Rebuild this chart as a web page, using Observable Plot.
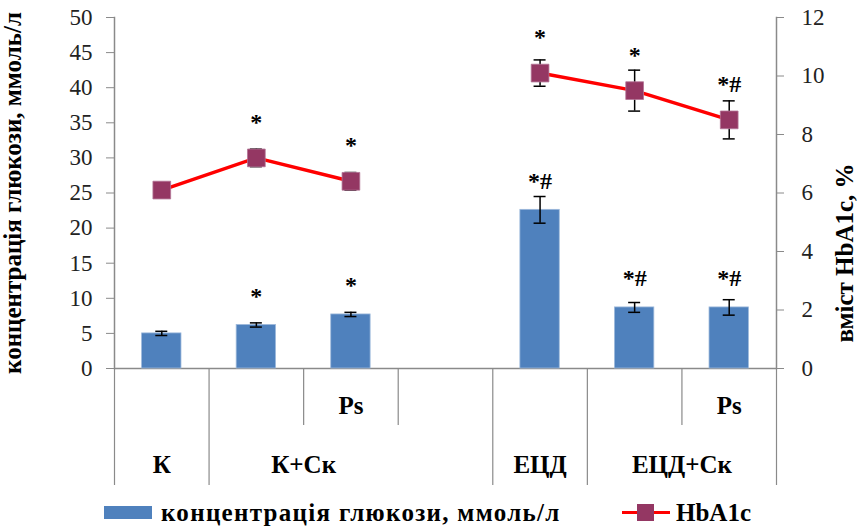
<!DOCTYPE html>
<html>
<head>
<meta charset="utf-8">
<script src="https://cdn.jsdelivr.net/npm/d3@7"></script>
<script src="https://cdn.jsdelivr.net/npm/@observablehq/plot@0.6"></script>
<style>
  body { margin: 0; background: #fff; }
  #wrap { position: relative; width: 858px; height: 528px; font-family: "Liberation Serif", "DejaVu Serif Condensed", "DejaVu Serif", serif; }
  #legend { position: absolute; left: 0; top: 492px; width: 858px; height: 36px; font-weight: bold; font-size: 25px; line-height: 1; }
  #legend .sw { position: absolute; }
  #legend .txt { position: absolute; top: 8px; white-space: nowrap; color: #000; }
</style>
</head>
<body>
<div id="wrap">
  <div id="chart"></div>
  <div id="legend">
    <div class="sw" style="left:104px;top:14px;width:48px;height:13px;background:#4F81BD;"></div>
    <div class="txt" style="left:161px;letter-spacing:1.3px;">концентрація глюкози, ммоль/л</div>
    <div class="sw" style="left:622px;top:19px;width:48px;height:3px;background:#FF0000;"></div>
    <div class="sw" style="left:637px;top:12px;width:17px;height:17px;background:#943763;"></div>
    <div class="txt" style="left:676px;">HbA1c</div>
  </div>
</div>
<script>
// Groups on the outer row of the category axis, sub-labels on the inner row
const groups = ["К", "К+Ск", "К+Ск", "К+Ск", "ЕЦД", "ЕЦД+Ск", "ЕЦД+Ск"];
const subLabels = ["", "", "Ps", "", "", "", "Ps"];

// Blood glucose, mmol/l (bars, left axis)
const glucose = [5.0, 6.2, 7.7, null, 22.6, 8.7, 8.7];
const glucoseErr = [0.3, 0.3, 0.3, null, 1.9, 0.7, 1.1];
const glucoseMarks = ["", "*", "*", "", "*#", "*#", "*#"];

// HbA1c, % (line, right axis)
const hba1c = [6.1, 7.2, 6.4, null, 10.1, 9.5, 8.5];
const hba1cErr = [0.2, 0.3, 0.3, null, 0.45, 0.7, 0.65];
const hba1cMarks = ["", "*", "*", "", "*", "*", "*#"];

// Axis ticks
const leftTicks = [0, 5, 10, 15, 20, 25, 30, 35, 40, 45, 50];
const rightTicks = [0, 2, 4, 6, 8, 10, 12];

const yMax = 50, y2Max = 12;
const k = yMax / y2Max; // HbA1c units -> glucose axis units

const rows = groups.map((g, i) => ({
  i, group: g, sub: subLabels[i],
  glucose: glucose[i], gErr: glucoseErr[i], gMark: glucoseMarks[i],
  hba1c: hba1c[i], hErr: hba1cErr[i], hMark: hba1cMarks[i]
}));
const gRows = rows.filter(d => d.glucose != null);
const hRows = rows.filter(d => d.hba1c != null);

// Outer-row labels centred over the filled slots of each group
const groupLabels = Array.from(d3.group(gRows, d => d.group), ([group, rs]) => ({
  group, x: d3.mean(rs, d => d.i)
}));

// Category dividers: full height between groups, short within a group
const bounds = d3.range(groups.length + 1).map(b => ({
  x: b - 0.5,
  full: b === 0 || b === groups.length || groups[b] !== groups[b - 1]
}));

const width = 858, height = 492;
const marginTop = 17, marginBottom = 124, marginLeft = 114, marginRight = 82;
const frameH = height - marginTop - marginBottom;
const grid = "#8a8a8a";
const serif = "'Liberation Serif', 'DejaVu Serif Condensed', 'DejaVu Serif', serif";
const bold = {fontFamily: serif, fontWeight: "bold", fontSize: 24, fill: "black"};
const catLabel = {...bold, fontSize: 25};

const chart = Plot.plot({
  width, height, marginTop, marginBottom, marginLeft, marginRight,
  style: {fontFamily: serif, fontSize: "23px", background: "white", overflow: "visible"},
  x: {domain: [-0.5, groups.length - 0.5], axis: null},
  y: {domain: [0, yMax]},
  marks: [
    // axes
    Plot.axisY(leftTicks, {anchor: "left", tickSize: 8, tickPadding: 14, stroke: grid, fill: "#222", fontSize: 23, label: null}),
    Plot.axisY(rightTicks, {anchor: "right", y: d => d * k, tickFormat: d => String(d), tickSize: 7, tickPadding: 18, stroke: grid, fill: "#222", fontSize: 23, label: null}),
    Plot.frame({anchor: "left", stroke: grid, strokeWidth: 1.5}),
    Plot.frame({anchor: "right", stroke: grid, strokeWidth: 1.5}),
    Plot.ruleY([0], {stroke: grid, strokeWidth: 1.5}),

    // category axis dividers and labels
    Plot.ruleX(bounds.filter(d => d.full), {x: "x", stroke: grid, strokeWidth: 1.2, insetTop: frameH, insetBottom: -117}),
    Plot.ruleX(bounds.filter(d => !d.full), {x: "x", stroke: grid, strokeWidth: 1.2, insetTop: frameH, insetBottom: -57}),
    Plot.text(rows.filter(d => d.sub), {x: "i", text: "sub", frameAnchor: "bottom", dy: 45, ...catLabel}),
    Plot.text(groupLabels, {x: "x", text: "group", frameAnchor: "bottom", dy: 104, ...catLabel, letterSpacing: 0.5}),

    // axis titles
    Plot.text(["концентрація глюкози, ммоль/л"], {frameAnchor: "left", textAnchor: "middle", rotate: -90, dx: -102, ...bold, fontSize: 25, letterSpacing: 0.5}),
    Plot.text(["вміст HbA1c, %"], {frameAnchor: "right", textAnchor: "middle", rotate: -90, dx: 68, dy: 60, ...bold, fontSize: 25}),

    // glucose bars with error bars
    Plot.rectY(gRows, {x1: d => d.i - 0.5, x2: d => d.i + 0.5, y1: 0, y2: "glucose", insetLeft: 27.6, insetRight: 27.6, fill: "#4F81BD", stroke: "#9DB9DB", strokeWidth: 0.8}),
    Plot.ruleX(gRows, {x: "i", y1: d => d.glucose - d.gErr, y2: d => d.glucose + d.gErr, stroke: "black", strokeWidth: 1.5}),
    Plot.ruleY(gRows, {x1: "i", x2: "i", y: d => d.glucose - d.gErr, insetLeft: -6, insetRight: -6, stroke: "black", strokeWidth: 1.5}),
    Plot.ruleY(gRows, {x1: "i", x2: "i", y: d => d.glucose + d.gErr, insetLeft: -6, insetRight: -6, stroke: "black", strokeWidth: 1.5}),
    Plot.text(gRows.filter(d => d.gMark), {x: "i", y: "glucose", text: "gMark", lineAnchor: "bottom", dy: -21, ...bold}),

    // HbA1c line with error bars and markers
    Plot.line(rows, {x: "i", y: d => d.hba1c == null ? NaN : d.hba1c * k, stroke: "#FF0000", strokeWidth: 3.5}),
    Plot.ruleX(hRows, {x: "i", y1: d => (d.hba1c - d.hErr) * k, y2: d => (d.hba1c + d.hErr) * k, stroke: "black", strokeWidth: 1.5}),
    Plot.ruleY(hRows, {x1: "i", x2: "i", y: d => (d.hba1c - d.hErr) * k, insetLeft: -6, insetRight: -6, stroke: "black", strokeWidth: 1.5}),
    Plot.ruleY(hRows, {x1: "i", x2: "i", y: d => (d.hba1c + d.hErr) * k, insetLeft: -6, insetRight: -6, stroke: "black", strokeWidth: 1.5}),
    Plot.dot(hRows, {x: "i", y: d => d.hba1c * k, symbol: "square", r: 10, fill: "#943763", stroke: "#B27395", strokeWidth: 0.8}),
    Plot.text(hRows.filter(d => d.hMark), {x: "i", y: d => d.hba1c * k, text: "hMark", lineAnchor: "bottom", dy: -28, ...bold})
  ]
});
document.getElementById("chart").appendChild(chart);
</script>
</body>
</html>
